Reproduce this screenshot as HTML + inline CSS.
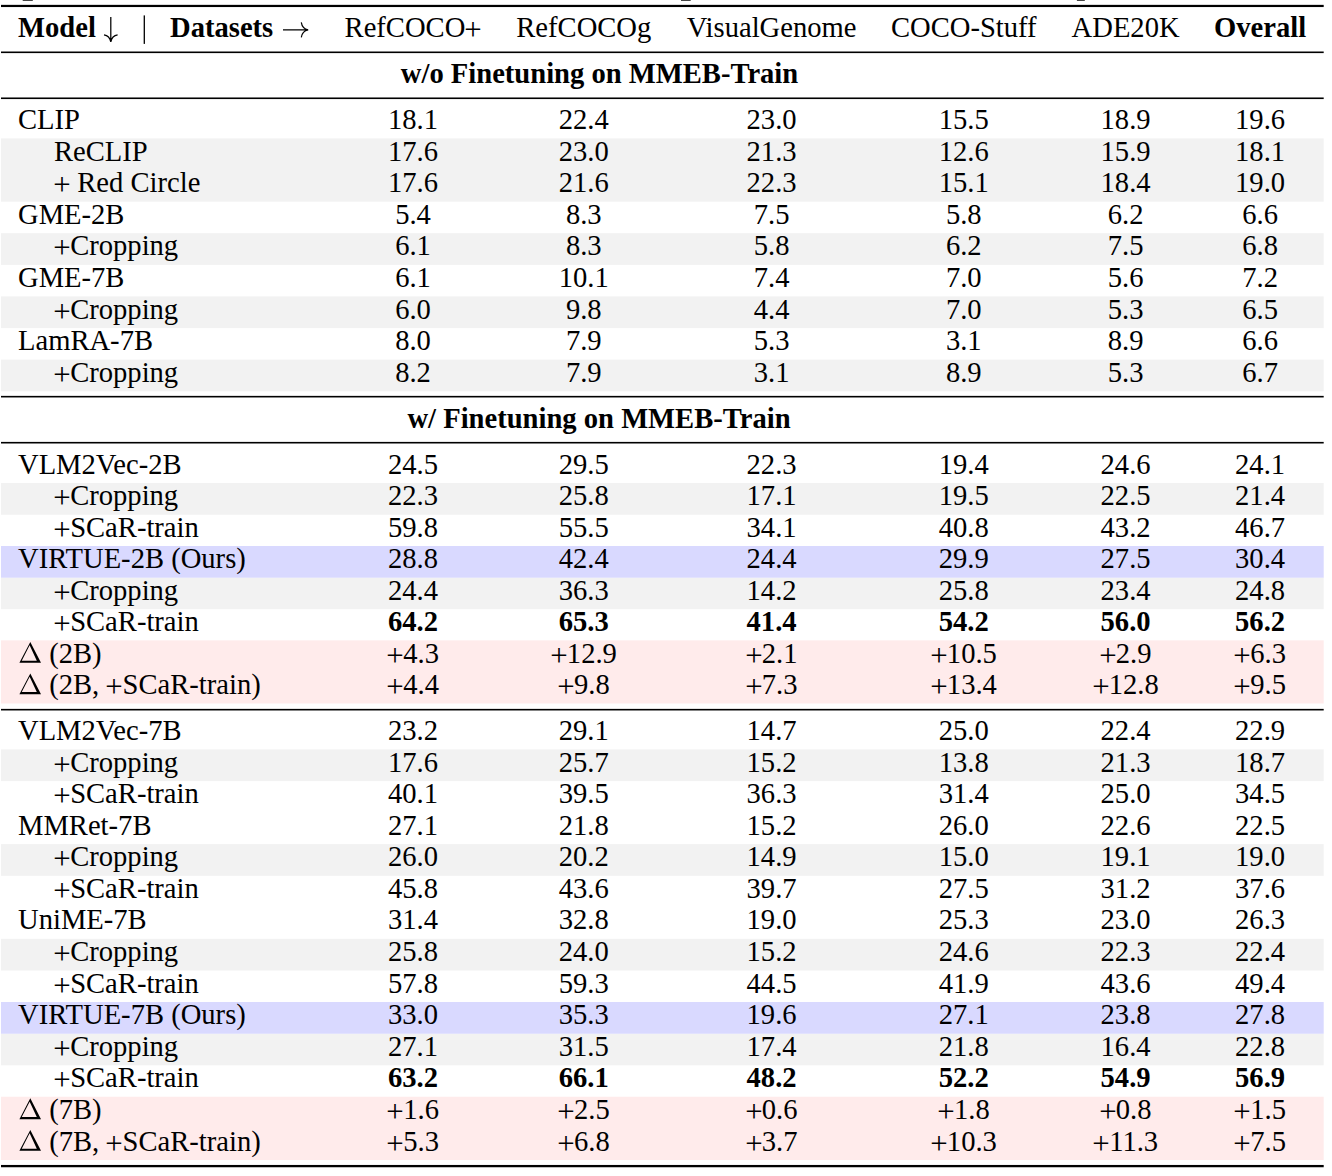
<!DOCTYPE html>
<html><head><meta charset="utf-8"><style>
html,body{margin:0;padding:0;background:#fff;}
body{width:1332px;height:1176px;position:relative;overflow:hidden;}
svg.bg{position:absolute;left:0;top:0;}
.t{position:absolute;white-space:nowrap;font-family:"Liberation Serif",serif;font-size:28.6px;line-height:40px;color:#000;}
.c{width:500px;text-align:center;}
.b{font-weight:bold;}
.p{display:inline-block;transform:translateY(2.2px) scale(1.08);transform-origin:50% 20px;}
</style></head><body>
<svg class="bg" width="1332" height="1176" viewBox="0 0 1332 1176">
<rect x="1.0" y="1096.76" width="1322.70" height="63.28" fill="#ffebeb"/>
<rect x="1.0" y="1033.60" width="1322.70" height="31.70" fill="#f2f2f2"/>
<rect x="1.0" y="1002.02" width="1322.70" height="31.70" fill="#d9d9ff"/>
<rect x="1.0" y="938.86" width="1322.70" height="31.70" fill="#f2f2f2"/>
<rect x="1.0" y="844.12" width="1322.70" height="31.70" fill="#f2f2f2"/>
<rect x="1.0" y="749.38" width="1322.70" height="31.70" fill="#f2f2f2"/>
<rect x="1.0" y="640.36" width="1322.70" height="63.16" fill="#ffebeb"/>
<rect x="1.0" y="577.44" width="1322.70" height="31.70" fill="#f2f2f2"/>
<rect x="1.0" y="545.98" width="1322.70" height="31.70" fill="#d9d9ff"/>
<rect x="1.0" y="483.06" width="1322.70" height="31.70" fill="#f2f2f2"/>
<rect x="1.0" y="359.60" width="1322.70" height="31.70" fill="#f2f2f2"/>
<rect x="1.0" y="296.40" width="1322.70" height="31.70" fill="#f2f2f2"/>
<rect x="1.0" y="233.20" width="1322.70" height="31.70" fill="#f2f2f2"/>
<rect x="1.0" y="138.40" width="1322.70" height="63.30" fill="#f2f2f2"/>
<path fill-rule="evenodd" fill="#000" d="M19.40,662.76 L30.30,641.96 L41.00,662.76 Z M21.75,660.66 L29.65,645.26 L36.80,660.66 Z"/>
<path fill-rule="evenodd" fill="#000" d="M19.40,694.22 L30.30,673.42 L41.00,694.22 Z M21.75,692.12 L29.65,676.72 L36.80,692.12 Z"/>
<path fill-rule="evenodd" fill="#000" d="M19.40,1119.16 L30.30,1098.36 L41.00,1119.16 Z M21.75,1117.06 L29.65,1101.66 L36.80,1117.06 Z"/>
<path fill-rule="evenodd" fill="#000" d="M19.40,1150.74 L30.30,1129.94 L41.00,1150.74 Z M21.75,1148.64 L29.65,1133.24 L36.80,1148.64 Z"/>
<rect x="1.0" y="4.85" width="1322.70" height="2.2" fill="#000"/>
<rect x="1.0" y="51.5" width="1322.70" height="1.6" fill="#000"/>
<rect x="1.0" y="97.47" width="1322.70" height="1.6" fill="#000"/>
<rect x="1.0" y="395.87" width="1322.70" height="1.6" fill="#000"/>
<rect x="1.0" y="441.9" width="1322.70" height="1.6" fill="#000"/>
<rect x="1.0" y="708.88" width="1322.70" height="1.6" fill="#000"/>
<rect x="1.0" y="1164.95" width="1322.70" height="2.3" fill="#000"/>
<path d="M110.8,17 V41.2 M104,34.8 Q109.6,35.6 110.8,41.8 M117.6,34.8 Q112,35.6 110.8,41.8" stroke="#000" stroke-width="1.25" fill="none"/>
<rect x="143.65" y="15.4" width="1.3" height="28.5" fill="#000"/>
<path d="M283,29.8 H307.6 M301.3,22.3 Q302.2,28.6 308.2,29.8 M301.3,37.3 Q302.2,31 308.2,29.8" stroke="#000" stroke-width="1.2" fill="none"/>
<rect x="22.7" y="0" width="10.1" height="1.0" fill="#444"/>
<rect x="681.0" y="0" width="9.7" height="1.0" fill="#444"/>
<rect x="1076.9" y="0" width="7.9" height="1.0" fill="#444"/>
</svg>
<div class="t" style="left:18.00px;top:100px">CLIP</div>
<div class="t c" style="left:163.00px;top:100px">18.1</div>
<div class="t c" style="left:333.80px;top:100px">22.4</div>
<div class="t c" style="left:521.60px;top:100px">23.0</div>
<div class="t c" style="left:713.80px;top:100px">15.5</div>
<div class="t c" style="left:875.60px;top:100px">18.9</div>
<div class="t c" style="left:1010.10px;top:100px">19.6</div>
<div class="t" style="left:54.00px;top:132px">ReCLIP</div>
<div class="t c" style="left:163.00px;top:132px">17.6</div>
<div class="t c" style="left:333.80px;top:132px">23.0</div>
<div class="t c" style="left:521.60px;top:132px">21.3</div>
<div class="t c" style="left:713.80px;top:132px">12.6</div>
<div class="t c" style="left:875.60px;top:132px">15.9</div>
<div class="t c" style="left:1010.10px;top:132px">18.1</div>
<div class="t" style="left:54.00px;top:163px"><span class="p">+</span> Red Circle</div>
<div class="t c" style="left:163.00px;top:163px">17.6</div>
<div class="t c" style="left:333.80px;top:163px">21.6</div>
<div class="t c" style="left:521.60px;top:163px">22.3</div>
<div class="t c" style="left:713.80px;top:163px">15.1</div>
<div class="t c" style="left:875.60px;top:163px">18.4</div>
<div class="t c" style="left:1010.10px;top:163px">19.0</div>
<div class="t" style="left:18.00px;top:195px">GME-2B</div>
<div class="t c" style="left:163.00px;top:195px">5.4</div>
<div class="t c" style="left:333.80px;top:195px">8.3</div>
<div class="t c" style="left:521.60px;top:195px">7.5</div>
<div class="t c" style="left:713.80px;top:195px">5.8</div>
<div class="t c" style="left:875.60px;top:195px">6.2</div>
<div class="t c" style="left:1010.10px;top:195px">6.6</div>
<div class="t" style="left:54.00px;top:226px"><span class="p">+</span>Cropping</div>
<div class="t c" style="left:163.00px;top:226px">6.1</div>
<div class="t c" style="left:333.80px;top:226px">8.3</div>
<div class="t c" style="left:521.60px;top:226px">5.8</div>
<div class="t c" style="left:713.80px;top:226px">6.2</div>
<div class="t c" style="left:875.60px;top:226px">7.5</div>
<div class="t c" style="left:1010.10px;top:226px">6.8</div>
<div class="t" style="left:18.00px;top:258px">GME-7B</div>
<div class="t c" style="left:163.00px;top:258px">6.1</div>
<div class="t c" style="left:333.80px;top:258px">10.1</div>
<div class="t c" style="left:521.60px;top:258px">7.4</div>
<div class="t c" style="left:713.80px;top:258px">7.0</div>
<div class="t c" style="left:875.60px;top:258px">5.6</div>
<div class="t c" style="left:1010.10px;top:258px">7.2</div>
<div class="t" style="left:54.00px;top:290px"><span class="p">+</span>Cropping</div>
<div class="t c" style="left:163.00px;top:290px">6.0</div>
<div class="t c" style="left:333.80px;top:290px">9.8</div>
<div class="t c" style="left:521.60px;top:290px">4.4</div>
<div class="t c" style="left:713.80px;top:290px">7.0</div>
<div class="t c" style="left:875.60px;top:290px">5.3</div>
<div class="t c" style="left:1010.10px;top:290px">6.5</div>
<div class="t" style="left:18.00px;top:321px">LamRA-7B</div>
<div class="t c" style="left:163.00px;top:321px">8.0</div>
<div class="t c" style="left:333.80px;top:321px">7.9</div>
<div class="t c" style="left:521.60px;top:321px">5.3</div>
<div class="t c" style="left:713.80px;top:321px">3.1</div>
<div class="t c" style="left:875.60px;top:321px">8.9</div>
<div class="t c" style="left:1010.10px;top:321px">6.6</div>
<div class="t" style="left:54.00px;top:353px"><span class="p">+</span>Cropping</div>
<div class="t c" style="left:163.00px;top:353px">8.2</div>
<div class="t c" style="left:333.80px;top:353px">7.9</div>
<div class="t c" style="left:521.60px;top:353px">3.1</div>
<div class="t c" style="left:713.80px;top:353px">8.9</div>
<div class="t c" style="left:875.60px;top:353px">5.3</div>
<div class="t c" style="left:1010.10px;top:353px">6.7</div>
<div class="t" style="left:18.00px;top:445px">VLM2Vec-2B</div>
<div class="t c" style="left:163.00px;top:445px">24.5</div>
<div class="t c" style="left:333.80px;top:445px">29.5</div>
<div class="t c" style="left:521.60px;top:445px">22.3</div>
<div class="t c" style="left:713.80px;top:445px">19.4</div>
<div class="t c" style="left:875.60px;top:445px">24.6</div>
<div class="t c" style="left:1010.10px;top:445px">24.1</div>
<div class="t" style="left:54.00px;top:476px"><span class="p">+</span>Cropping</div>
<div class="t c" style="left:163.00px;top:476px">22.3</div>
<div class="t c" style="left:333.80px;top:476px">25.8</div>
<div class="t c" style="left:521.60px;top:476px">17.1</div>
<div class="t c" style="left:713.80px;top:476px">19.5</div>
<div class="t c" style="left:875.60px;top:476px">22.5</div>
<div class="t c" style="left:1010.10px;top:476px">21.4</div>
<div class="t" style="left:54.00px;top:508px"><span class="p">+</span>SCaR-train</div>
<div class="t c" style="left:163.00px;top:508px">59.8</div>
<div class="t c" style="left:333.80px;top:508px">55.5</div>
<div class="t c" style="left:521.60px;top:508px">34.1</div>
<div class="t c" style="left:713.80px;top:508px">40.8</div>
<div class="t c" style="left:875.60px;top:508px">43.2</div>
<div class="t c" style="left:1010.10px;top:508px">46.7</div>
<div class="t" style="left:18.00px;top:539px">VIRTUE-2B (Ours)</div>
<div class="t c" style="left:163.00px;top:539px">28.8</div>
<div class="t c" style="left:333.80px;top:539px">42.4</div>
<div class="t c" style="left:521.60px;top:539px">24.4</div>
<div class="t c" style="left:713.80px;top:539px">29.9</div>
<div class="t c" style="left:875.60px;top:539px">27.5</div>
<div class="t c" style="left:1010.10px;top:539px">30.4</div>
<div class="t" style="left:54.00px;top:571px"><span class="p">+</span>Cropping</div>
<div class="t c" style="left:163.00px;top:571px">24.4</div>
<div class="t c" style="left:333.80px;top:571px">36.3</div>
<div class="t c" style="left:521.60px;top:571px">14.2</div>
<div class="t c" style="left:713.80px;top:571px">25.8</div>
<div class="t c" style="left:875.60px;top:571px">23.4</div>
<div class="t c" style="left:1010.10px;top:571px">24.8</div>
<div class="t" style="left:54.00px;top:602px"><span class="p">+</span>SCaR-train</div>
<div class="t c b" style="left:163.00px;top:602px">64.2</div>
<div class="t c b" style="left:333.80px;top:602px">65.3</div>
<div class="t c b" style="left:521.60px;top:602px">41.4</div>
<div class="t c b" style="left:713.80px;top:602px">54.2</div>
<div class="t c b" style="left:875.60px;top:602px">56.0</div>
<div class="t c b" style="left:1010.10px;top:602px">56.2</div>
<div class="t" style="left:49.20px;top:634px">(2B)</div>
<div class="t c" style="left:163.00px;top:634px"><span class="p">+</span>4.3</div>
<div class="t c" style="left:333.80px;top:634px"><span class="p">+</span>12.9</div>
<div class="t c" style="left:521.60px;top:634px"><span class="p">+</span>2.1</div>
<div class="t c" style="left:713.80px;top:634px"><span class="p">+</span>10.5</div>
<div class="t c" style="left:875.60px;top:634px"><span class="p">+</span>2.9</div>
<div class="t c" style="left:1010.10px;top:634px"><span class="p">+</span>6.3</div>
<div class="t" style="left:49.20px;top:665px">(2B, <span class="p">+</span>SCaR-train)</div>
<div class="t c" style="left:163.00px;top:665px"><span class="p">+</span>4.4</div>
<div class="t c" style="left:333.80px;top:665px"><span class="p">+</span>9.8</div>
<div class="t c" style="left:521.60px;top:665px"><span class="p">+</span>7.3</div>
<div class="t c" style="left:713.80px;top:665px"><span class="p">+</span>13.4</div>
<div class="t c" style="left:875.60px;top:665px"><span class="p">+</span>12.8</div>
<div class="t c" style="left:1010.10px;top:665px"><span class="p">+</span>9.5</div>
<div class="t" style="left:18.00px;top:711px">VLM2Vec-7B</div>
<div class="t c" style="left:163.00px;top:711px">23.2</div>
<div class="t c" style="left:333.80px;top:711px">29.1</div>
<div class="t c" style="left:521.60px;top:711px">14.7</div>
<div class="t c" style="left:713.80px;top:711px">25.0</div>
<div class="t c" style="left:875.60px;top:711px">22.4</div>
<div class="t c" style="left:1010.10px;top:711px">22.9</div>
<div class="t" style="left:54.00px;top:743px"><span class="p">+</span>Cropping</div>
<div class="t c" style="left:163.00px;top:743px">17.6</div>
<div class="t c" style="left:333.80px;top:743px">25.7</div>
<div class="t c" style="left:521.60px;top:743px">15.2</div>
<div class="t c" style="left:713.80px;top:743px">13.8</div>
<div class="t c" style="left:875.60px;top:743px">21.3</div>
<div class="t c" style="left:1010.10px;top:743px">18.7</div>
<div class="t" style="left:54.00px;top:774px"><span class="p">+</span>SCaR-train</div>
<div class="t c" style="left:163.00px;top:774px">40.1</div>
<div class="t c" style="left:333.80px;top:774px">39.5</div>
<div class="t c" style="left:521.60px;top:774px">36.3</div>
<div class="t c" style="left:713.80px;top:774px">31.4</div>
<div class="t c" style="left:875.60px;top:774px">25.0</div>
<div class="t c" style="left:1010.10px;top:774px">34.5</div>
<div class="t" style="left:18.00px;top:806px">MMRet-7B</div>
<div class="t c" style="left:163.00px;top:806px">27.1</div>
<div class="t c" style="left:333.80px;top:806px">21.8</div>
<div class="t c" style="left:521.60px;top:806px">15.2</div>
<div class="t c" style="left:713.80px;top:806px">26.0</div>
<div class="t c" style="left:875.60px;top:806px">22.6</div>
<div class="t c" style="left:1010.10px;top:806px">22.5</div>
<div class="t" style="left:54.00px;top:837px"><span class="p">+</span>Cropping</div>
<div class="t c" style="left:163.00px;top:837px">26.0</div>
<div class="t c" style="left:333.80px;top:837px">20.2</div>
<div class="t c" style="left:521.60px;top:837px">14.9</div>
<div class="t c" style="left:713.80px;top:837px">15.0</div>
<div class="t c" style="left:875.60px;top:837px">19.1</div>
<div class="t c" style="left:1010.10px;top:837px">19.0</div>
<div class="t" style="left:54.00px;top:869px"><span class="p">+</span>SCaR-train</div>
<div class="t c" style="left:163.00px;top:869px">45.8</div>
<div class="t c" style="left:333.80px;top:869px">43.6</div>
<div class="t c" style="left:521.60px;top:869px">39.7</div>
<div class="t c" style="left:713.80px;top:869px">27.5</div>
<div class="t c" style="left:875.60px;top:869px">31.2</div>
<div class="t c" style="left:1010.10px;top:869px">37.6</div>
<div class="t" style="left:18.00px;top:900px">UniME-7B</div>
<div class="t c" style="left:163.00px;top:900px">31.4</div>
<div class="t c" style="left:333.80px;top:900px">32.8</div>
<div class="t c" style="left:521.60px;top:900px">19.0</div>
<div class="t c" style="left:713.80px;top:900px">25.3</div>
<div class="t c" style="left:875.60px;top:900px">23.0</div>
<div class="t c" style="left:1010.10px;top:900px">26.3</div>
<div class="t" style="left:54.00px;top:932px"><span class="p">+</span>Cropping</div>
<div class="t c" style="left:163.00px;top:932px">25.8</div>
<div class="t c" style="left:333.80px;top:932px">24.0</div>
<div class="t c" style="left:521.60px;top:932px">15.2</div>
<div class="t c" style="left:713.80px;top:932px">24.6</div>
<div class="t c" style="left:875.60px;top:932px">22.3</div>
<div class="t c" style="left:1010.10px;top:932px">22.4</div>
<div class="t" style="left:54.00px;top:964px"><span class="p">+</span>SCaR-train</div>
<div class="t c" style="left:163.00px;top:964px">57.8</div>
<div class="t c" style="left:333.80px;top:964px">59.3</div>
<div class="t c" style="left:521.60px;top:964px">44.5</div>
<div class="t c" style="left:713.80px;top:964px">41.9</div>
<div class="t c" style="left:875.60px;top:964px">43.6</div>
<div class="t c" style="left:1010.10px;top:964px">49.4</div>
<div class="t" style="left:18.00px;top:995px">VIRTUE-7B (Ours)</div>
<div class="t c" style="left:163.00px;top:995px">33.0</div>
<div class="t c" style="left:333.80px;top:995px">35.3</div>
<div class="t c" style="left:521.60px;top:995px">19.6</div>
<div class="t c" style="left:713.80px;top:995px">27.1</div>
<div class="t c" style="left:875.60px;top:995px">23.8</div>
<div class="t c" style="left:1010.10px;top:995px">27.8</div>
<div class="t" style="left:54.00px;top:1027px"><span class="p">+</span>Cropping</div>
<div class="t c" style="left:163.00px;top:1027px">27.1</div>
<div class="t c" style="left:333.80px;top:1027px">31.5</div>
<div class="t c" style="left:521.60px;top:1027px">17.4</div>
<div class="t c" style="left:713.80px;top:1027px">21.8</div>
<div class="t c" style="left:875.60px;top:1027px">16.4</div>
<div class="t c" style="left:1010.10px;top:1027px">22.8</div>
<div class="t" style="left:54.00px;top:1058px"><span class="p">+</span>SCaR-train</div>
<div class="t c b" style="left:163.00px;top:1058px">63.2</div>
<div class="t c b" style="left:333.80px;top:1058px">66.1</div>
<div class="t c b" style="left:521.60px;top:1058px">48.2</div>
<div class="t c b" style="left:713.80px;top:1058px">52.2</div>
<div class="t c b" style="left:875.60px;top:1058px">54.9</div>
<div class="t c b" style="left:1010.10px;top:1058px">56.9</div>
<div class="t" style="left:49.20px;top:1090px">(7B)</div>
<div class="t c" style="left:163.00px;top:1090px"><span class="p">+</span>1.6</div>
<div class="t c" style="left:333.80px;top:1090px"><span class="p">+</span>2.5</div>
<div class="t c" style="left:521.60px;top:1090px"><span class="p">+</span>0.6</div>
<div class="t c" style="left:713.80px;top:1090px"><span class="p">+</span>1.8</div>
<div class="t c" style="left:875.60px;top:1090px"><span class="p">+</span>0.8</div>
<div class="t c" style="left:1010.10px;top:1090px"><span class="p">+</span>1.5</div>
<div class="t" style="left:49.20px;top:1122px">(7B, <span class="p">+</span>SCaR-train)</div>
<div class="t c" style="left:163.00px;top:1122px"><span class="p">+</span>5.3</div>
<div class="t c" style="left:333.80px;top:1122px"><span class="p">+</span>6.8</div>
<div class="t c" style="left:521.60px;top:1122px"><span class="p">+</span>3.7</div>
<div class="t c" style="left:713.80px;top:1122px"><span class="p">+</span>10.3</div>
<div class="t c" style="left:875.60px;top:1122px"><span class="p">+</span>11.3</div>
<div class="t c" style="left:1010.10px;top:1122px"><span class="p">+</span>7.5</div>
<div class="t b" style="left:18.00px;top:8px">Model</div>
<div class="t b" style="left:170.00px;top:8px">Datasets</div>
<div class="t c" style="left:163.00px;top:8px">RefCOCO<span class="p">+</span></div>
<div class="t c" style="left:333.80px;top:8px">RefCOCOg</div>
<div class="t c" style="left:521.60px;top:8px">VisualGenome</div>
<div class="t c" style="left:713.80px;top:8px">COCO-Stuff</div>
<div class="t c" style="left:875.60px;top:8px">ADE20K</div>
<div class="t c b" style="left:1010.10px;top:8px">Overall</div>
<div class="t c b" style="left:349.50px;top:54px">w/o Finetuning on MMEB-Train</div>
<div class="t c b" style="left:349.00px;top:399px">w/ Finetuning on MMEB-Train</div>
</body></html>
